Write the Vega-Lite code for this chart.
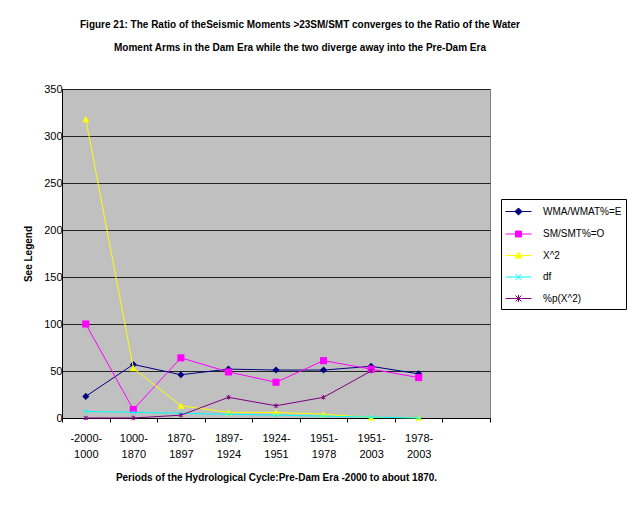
{
  "$schema": "https://vega.github.io/schema/vega-lite/v6.json",
  "width": 428,
  "height": 329,
  "autosize": {"type": "none"},
  "padding": {"left": 62, "top": 89, "right": 137, "bottom": 90},
  "background": "white",
  "title": {
    "text": [
      "Figure 21: The Ratio of theSeismic Moments >23SM/SMT converges to  the Ratio of the Water",
      "Moment Arms in the Dam Era while the two diverge away into the Pre-Dam Era"
    ],
    "font": "Liberation Sans",
    "fontSize": 10,
    "fontWeight": "bold",
    "color": "black",
    "lineHeight": 23,
    "anchor": "middle",
    "dx": 24,
    "offset": 30
  },
  "config": {
    "view": {"fill": "#C0C0C0", "stroke": "#808080", "strokeWidth": 1},
    "axis": {
      "labelFont": "Liberation Sans",
      "labelFontSize": 11,
      "labelColor": "black",
      "titleFont": "Liberation Sans",
      "titleFontSize": 10,
      "titleFontWeight": "bold",
      "titleColor": "black",
      "domainColor": "black",
      "tickColor": "black"
    },
    "legend": {
      "labelFont": "Liberation Sans",
      "labelFontSize": 10,
      "labelColor": "black"
    }
  },
  "data": {
    "values": [
      {"period": "-2000-1000", "series": "WMA/WMAT%=E", "value": 23},
      {"period": "1000-1870", "series": "WMA/WMAT%=E", "value": 57},
      {"period": "1870-1897", "series": "WMA/WMAT%=E", "value": 46},
      {"period": "1897-1924", "series": "WMA/WMAT%=E", "value": 52},
      {"period": "1924-1951", "series": "WMA/WMAT%=E", "value": 51},
      {"period": "1951-1978", "series": "WMA/WMAT%=E", "value": 51},
      {"period": "1951-2003", "series": "WMA/WMAT%=E", "value": 55},
      {"period": "1978-2003", "series": "WMA/WMAT%=E", "value": 47},
      {"period": "-2000-1000", "series": "SM/SMT%=O", "value": 100},
      {"period": "1000-1870", "series": "SM/SMT%=O", "value": 9},
      {"period": "1870-1897", "series": "SM/SMT%=O", "value": 64},
      {"period": "1897-1924", "series": "SM/SMT%=O", "value": 49},
      {"period": "1924-1951", "series": "SM/SMT%=O", "value": 38},
      {"period": "1951-1978", "series": "SM/SMT%=O", "value": 61},
      {"period": "1951-2003", "series": "SM/SMT%=O", "value": 52},
      {"period": "1978-2003", "series": "SM/SMT%=O", "value": 43},
      {"period": "-2000-1000", "series": "X^2", "value": 318},
      {"period": "1000-1870", "series": "X^2", "value": 53},
      {"period": "1870-1897", "series": "X^2", "value": 13},
      {"period": "1897-1924", "series": "X^2", "value": 6},
      {"period": "1924-1951", "series": "X^2", "value": 6},
      {"period": "1951-1978", "series": "X^2", "value": 4},
      {"period": "1951-2003", "series": "X^2", "value": 0.5},
      {"period": "1978-2003", "series": "X^2", "value": 0.3},
      {"period": "-2000-1000", "series": "df", "value": 7},
      {"period": "1000-1870", "series": "df", "value": 6},
      {"period": "1870-1897", "series": "df", "value": 5},
      {"period": "1897-1924", "series": "df", "value": 4},
      {"period": "1924-1951", "series": "df", "value": 3},
      {"period": "1951-1978", "series": "df", "value": 2},
      {"period": "1951-2003", "series": "df", "value": 1},
      {"period": "1978-2003", "series": "df", "value": 0},
      {"period": "-2000-1000", "series": "%p(X^2)", "value": 0},
      {"period": "1000-1870", "series": "%p(X^2)", "value": 0},
      {"period": "1870-1897", "series": "%p(X^2)", "value": 3},
      {"period": "1897-1924", "series": "%p(X^2)", "value": 22},
      {"period": "1924-1951", "series": "%p(X^2)", "value": 13},
      {"period": "1951-1978", "series": "%p(X^2)", "value": 22},
      {"period": "1951-2003", "series": "%p(X^2)", "value": 50}
    ]
  },
  "encoding": {
    "x": {
      "field": "period",
      "type": "nominal",
      "scale": {
        "domain": ["-2000-1000", "1000-1870", "1870-1897", "1897-1924", "1924-1951", "1951-1978", "1951-2003", "1978-2003", ""],
        "paddingInner": 0,
        "paddingOuter": 0
      },
      "axis": {
        "title": "Periods of the Hydrological Cycle:Pre-Dam Era -2000 to about 1870.",
        "labelAngle": 0,
        "labelExpr": "[slice(datum.label, 0, lastindexof(datum.label, '-') + 1), slice(datum.label, lastindexof(datum.label, '-') + 1)]",
        "labelLineHeight": 16,
        "labelBaseline": "top",
        "tickBand": "extent",
        "tickSize": 4,
        "labelPadding": 10,
        "titlePadding": 13,
        "grid": false
      }
    },
    "y": {
      "field": "value",
      "type": "quantitative",
      "scale": {"domain": [0, 350], "nice": false},
      "axis": {
        "title": "See Legend",
        "values": [0, 50, 100, 150, 200, 250, 300, 350],
        "grid": true,
        "gridColor": "#222222",
        "gridOpacity": 1,
        "ticks": false,
        "labelPadding": 0,
        "titlePadding": 10
      }
    }
  },
  "layer": [
    {
      "transform": [{"filter": "datum.series === 'WMA/WMAT%=E'"}],
      "mark": {"type": "line", "strokeWidth": 1, "color": "#000080"}
    },
    {
      "transform": [{"filter": "datum.series === 'WMA/WMAT%=E'"}],
      "mark": {"type": "point", "shape": "diamond", "size": 50, "filled": true, "color": "#000080", "opacity": 1}
    },
    {
      "transform": [{"filter": "datum.series === 'SM/SMT%=O'"}],
      "mark": {"type": "line", "strokeWidth": 1, "color": "#FF00FF"}
    },
    {
      "transform": [{"filter": "datum.series === 'SM/SMT%=O'"}],
      "mark": {"type": "point", "shape": "square", "size": 50, "filled": true, "color": "#FF00FF", "opacity": 1}
    },
    {
      "transform": [{"filter": "datum.series === 'X^2'"}],
      "mark": {"type": "line", "strokeWidth": 1, "color": "#FFFF00"}
    },
    {
      "transform": [{"filter": "datum.series === 'X^2'"}],
      "mark": {"type": "point", "shape": "triangle-up", "size": 50, "filled": true, "color": "#FFFF00", "opacity": 1}
    },
    {
      "transform": [{"filter": "datum.series === 'df'"}],
      "mark": {"type": "line", "strokeWidth": 1, "color": "#00FFFF"}
    },
    {
      "transform": [{"filter": "datum.series === 'df'"}],
      "mark": {"type": "point", "shape": "M-1,-1L1,1M-1,1L1,-1", "size": 14, "filled": false, "color": "#00FFFF", "strokeWidth": 1, "opacity": 1}
    },
    {
      "transform": [{"filter": "datum.series === '%p(X^2)'"}],
      "mark": {"type": "line", "strokeWidth": 1, "color": "#800080"}
    },
    {
      "transform": [{"filter": "datum.series === '%p(X^2)'"}],
      "mark": {"type": "point", "shape": "M-1,-1L1,1M-1,1L1,-1M0,-1.2L0,1.2", "size": 14, "filled": false, "color": "#800080", "strokeWidth": 1, "opacity": 1}
    },
    {
      "mark": {"type": "point", "filled": true, "opacity": 0},
      "encoding": {
        "fill": {
          "field": "series",
          "type": "nominal",
          "scale": {
            "domain": ["WMA/WMAT%=E", "SM/SMT%=O", "X^2", "df", "%p(X^2)"],
            "range": ["#000080", "#FF00FF", "#FFFF00", "#00FFFF", "#800080"]
          },
          "legend": {
            "title": null,
            "orient": "none",
            "legendX": 439,
            "legendY": 110,
            "padding": 4,
            "fillColor": "white",
            "strokeColor": "black",
            "symbolSize": 256,
            "symbolStrokeWidth": 1,
            "symbolOpacity": 1,
            "rowPadding": 7.5,
            "labelOffset": 21,
            "encode": {
              "symbols": {
                "update": {
                  "fill": {"scale": "fill", "field": "value"},
                  "stroke": {"scale": "stroke", "field": "value"},
                  "opacity": {"value": 1}
                }
              }
            }
          }
        },
        "stroke": {
          "field": "series",
          "type": "nominal",
          "scale": {
            "domain": ["WMA/WMAT%=E", "SM/SMT%=O", "X^2", "df", "%p(X^2)"],
            "range": ["#000080", "#FF00FF", "#FFFF00", "#00FFFF", "#800080"]
          }
        },
        "shape": {
          "field": "series",
          "type": "nominal",
          "scale": {
            "domain": ["WMA/WMAT%=E", "SM/SMT%=O", "X^2", "df", "%p(X^2)"],
            "range": [
              "M-1,0H2.25M0.625,-0.44L1.065,0L0.625,0.44L0.185,0Z",
              "M-1,0H2.25M0.255,-0.37H0.995V0.37H0.255Z",
              "M-1,0H2.25M0.625,-0.42L1.055,0.32H0.195Z",
              "M-1,0H2.25M0.255,-0.37L0.995,0.37M0.255,0.37L0.995,-0.37",
              "M-1,0H2.25M0.255,-0.37L0.995,0.37M0.255,0.37L0.995,-0.37M0.625,-0.45V0.45"
            ]
          }
        }
      }
    }
  ]
}
